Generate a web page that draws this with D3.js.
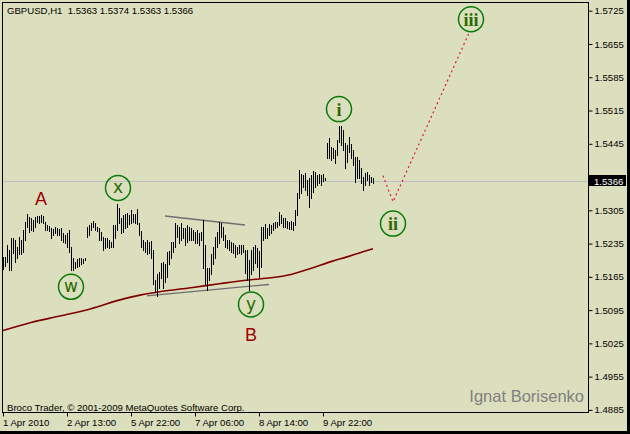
<!DOCTYPE html>
<html><head><meta charset="utf-8">
<script src="https://cdn.jsdelivr.net/npm/d3@7"></script>
<style>
html,body{margin:0;padding:0;background:#000;}
svg{display:block;}
</style></head>
<body>
<svg id="chart" width="630" height="434"></svg>
<script>
// ---- data ----
const symbolTitle = "GBPUSD,H1";
const lastOHLC = [1.5363, 1.5374, 1.5363, 1.5366];
const barHigh = [
1.5207,1.5207,1.5233,1.5222,1.5247,1.5247,1.5243,1.5228,1.5249,1.5243,
1.5264,1.5281,1.5298,1.5291,1.5289,1.5285,1.5291,1.5293,1.5293,1.5296,
1.5293,1.5281,1.5274,1.5272,1.5268,1.5266,1.5270,1.5268,1.5266,1.5268,
1.5258,1.5254,1.5258,1.5264,1.5228,1.5205,1.5197,1.5203,1.5205,1.5205,
1.5203,1.5205,1.5270,1.5274,1.5279,1.5283,1.5279,1.5270,1.5268,1.5260,
1.5249,1.5247,1.5247,1.5243,1.5239,1.5274,1.5274,1.5319,1.5310,1.5289,
1.5296,1.5298,1.5300,1.5296,1.5306,1.5298,1.5298,1.5308,1.5279,1.5262,
1.5243,1.5239,1.5243,1.5239,1.5241,1.5222,1.5159,1.5172,1.5176,1.5195,
1.5197,1.5191,1.5218,1.5220,1.5239,1.5239,1.5279,1.5274,1.5270,1.5279,
1.5268,1.5268,1.5274,1.5270,1.5268,1.5264,1.5260,1.5264,1.5258,1.5260,
1.5285,1.5233,1.5184,1.5184,1.5212,1.5228,1.5249,1.5260,1.5281,1.5279,
1.5270,1.5254,1.5243,1.5243,1.5239,1.5237,1.5233,1.5228,1.5233,1.5233,
1.5233,1.5222,1.5222,1.5201,1.5222,1.5228,1.5233,1.5226,1.5220,1.5270,
1.5270,1.5277,1.5268,1.5277,1.5274,1.5279,1.5281,1.5281,1.5302,1.5296,
1.5289,1.5289,1.5283,1.5281,1.5283,1.5281,1.5306,1.5342,1.5390,1.5382,
1.5380,1.5384,1.5369,1.5373,1.5380,1.5388,1.5386,1.5380,1.5382,1.5380,
1.5382,1.5373,1.5447,1.5457,1.5438,1.5436,1.5432,1.5453,1.5482,1.5482,
1.5474,1.5447,1.5443,1.5459,1.5445,1.5432,1.5418,1.5418,1.5411,1.5394,
1.5375,1.5384,1.5386,1.5380,1.5375,1.5374];
const barLow = [
1.5182,1.5188,1.5197,1.5180,1.5180,1.5216,1.5197,1.5205,1.5212,1.5212,
1.5218,1.5243,1.5270,1.5260,1.5264,1.5262,1.5270,1.5281,1.5279,1.5281,
1.5279,1.5264,1.5264,1.5262,1.5247,1.5254,1.5258,1.5254,1.5254,1.5243,
1.5239,1.5237,1.5228,1.5218,1.5180,1.5180,1.5184,1.5186,1.5188,1.5193,
1.5195,1.5201,1.5249,1.5254,1.5264,1.5270,1.5264,1.5262,1.5243,1.5243,
1.5222,1.5226,1.5228,1.5226,1.5228,1.5228,1.5247,1.5264,1.5279,1.5258,
1.5260,1.5268,1.5270,1.5277,1.5279,1.5281,1.5279,1.5277,1.5254,1.5228,
1.5222,1.5218,1.5212,1.5216,1.5205,1.5149,1.5134,1.5125,1.5142,1.5163,
1.5142,1.5155,1.5165,1.5191,1.5205,1.5218,1.5228,1.5249,1.5237,1.5243,
1.5247,1.5233,1.5239,1.5243,1.5243,1.5243,1.5237,1.5237,1.5233,1.5243,
1.5184,1.5149,1.5138,1.5159,1.5170,1.5191,1.5205,1.5228,1.5237,1.5249,
1.5243,1.5228,1.5226,1.5222,1.5218,1.5216,1.5207,1.5212,1.5216,1.5214,
1.5218,1.5174,1.5159,1.5138,1.5170,1.5180,1.5195,1.5186,1.5165,1.5186,
1.5243,1.5247,1.5247,1.5254,1.5258,1.5264,1.5268,1.5270,1.5274,1.5279,
1.5270,1.5270,1.5268,1.5266,1.5266,1.5264,1.5274,1.5296,1.5331,1.5342,
1.5354,1.5348,1.5338,1.5312,1.5331,1.5344,1.5354,1.5359,1.5363,1.5359,
1.5367,1.5369,1.5415,1.5415,1.5411,1.5415,1.5405,1.5422,1.5449,1.5443,
1.5432,1.5394,1.5407,1.5428,1.5415,1.5401,1.5365,1.5373,1.5373,1.5363,
1.5348,1.5359,1.5369,1.5359,1.5365,1.5363];

// moving average line (bar index, price)
const maIdx   = [0, 14, 29, 44, 59, 69, 79, 94, 109, 124, 134, 144, 155, 164, 172, 180, 185];
const maPrice = [1.5052,1.5069,1.5083,1.5098,1.5117,1.5127,1.5134,1.5142,1.5151,1.5159,1.5163,1.5170,1.5184,1.5197,1.5207,1.5218,1.5224];

// trend lines: [idx1, price1, idx2, price2]
const trendUpper = [81, 1.5293, 121, 1.5274];
const trendLower = [72, 1.5125, 133, 1.5149];

// projected path (idx, price)
const projIdx   = [190, 195, 233];
const projPrice = [1.5378, 1.5323, 1.5678];

// wave labels
const circleLabels = [
  {t:"w",   idx:34,   p:1.5144, serif:false},
  {t:"x",   idx:57.5, p:1.5352, serif:false},
  {t:"y",   idx:124,  p:1.5107, serif:false},
  {t:"i",   idx:168,  p:1.5518, serif:true},
  {t:"ii",  idx:195,  p:1.5277, serif:true},
  {t:"iii", idx:234,  p:1.5707, serif:true}
];
const letterLabels = [
  {t:"A", idx:19,  p:1.5329},
  {t:"B", idx:124, p:1.5043}
];

const priceTicks = [1.5725,1.5655,1.5585,1.5515,1.5445,1.5375,1.5305,1.5235,1.5165,1.5095,1.5025,1.4955,1.4885];
const timeIdx    = [0, 32, 64, 96, 128, 160];
const timeLabels = ["1 Apr 2010","2 Apr 13:00","5 Apr 22:00","7 Apr 06:00","8 Apr 14:00","9 Apr 22:00"];
const copyright = "Broco Trader, \u00A9 2001-2009 MetaQuotes Software Corp.";
const author = "Ignat Borisenko";

// ---- drawing ----
const BG = "#DCDFBD";
const svg = d3.select("#chart");
svg.append("rect").attr("width",630).attr("height",434).attr("fill","#000");
svg.append("rect").attr("width",627).attr("height",431).attr("fill",BG);

const L = 2, T = 2, R = 588, B = 412;
const x = d3.scaleLinear().domain([0, barHigh.length - 1]).range([3, 3 + 2*(barHigh.length - 1)]);
const y = d3.scaleLinear().domain([1.4885, 1.5725]).range([409.9, 10.7]);

const plot = svg.append("g");
const clip = svg.append("clipPath").attr("id","pc").append("rect")
  .attr("x",L).attr("y",T).attr("width",R-L).attr("height",B-T);
plot.attr("clip-path","url(#pc)");

// current price line
plot.append("line")
  .attr("x1",L).attr("x2",R)
  .attr("y1",Math.round(y(lastOHLC[3]))+0.5).attr("y2",Math.round(y(lastOHLC[3]))+0.5)
  .attr("stroke","#BEBEBE").attr("stroke-width",1);

// MA
const maData = maIdx.map((d,i)=>[d, maPrice[i]]);
plot.append("path")
  .datum(maData)
  .attr("d", d3.line().x(d=>x(d[0])).y(d=>y(d[1])).curve(d3.curveMonotoneX))
  .attr("fill","none").attr("stroke","#800000").attr("stroke-width",1.6);

// trend lines
[trendUpper, trendLower].forEach(t=>{
  plot.append("line")
    .attr("x1",x(t[0])).attr("y1",y(t[1])).attr("x2",x(t[2])).attr("y2",y(t[3]))
    .attr("stroke","#6E6E6E").attr("stroke-width",1.4);
});

// bars
plot.append("g").selectAll("line")
  .data(barHigh.map((h,i)=>({i, h, l: barLow[i]})))
  .join("line")
  .attr("x1", d=>Math.round(x(d.i))+0.5).attr("x2", d=>Math.round(x(d.i))+0.5)
  .attr("y1", d=>Math.round(y(d.h))).attr("y2", d=>Math.round(y(d.l))+1)
  .attr("stroke","#000").attr("stroke-width",1)
  .attr("shape-rendering","crispEdges");

// projection dotted path
plot.append("path")
  .datum(projIdx.map((d,i)=>[d, projPrice[i]]))
  .attr("d", d3.line().x(d=>x(d[0])).y(d=>y(d[1])))
  .attr("fill","none").attr("stroke","#E8103A").attr("stroke-width",1.2)
  .attr("stroke-dasharray","2,3");

// circle labels
const cl = plot.append("g").selectAll("g").data(circleLabels).join("g")
  .attr("transform", d=>`translate(${x(d.idx)},${y(d.p)})`);
cl.append("circle").attr("r",12.5).attr("fill","none")
  .attr("stroke","#0A7A0A").attr("stroke-width",1.5);
cl.append("text").text(d=>d.t)
  .attr("text-anchor","middle").attr("dy", d=> d.serif ? "0.36em" : "0.30em")
  .attr("font-family", d=> d.serif ? "'Liberation Serif', serif" : "'DejaVu Sans', sans-serif")
  .attr("font-size", d=> d.serif ? 18 : 17)
  .attr("font-weight", d=> d.serif ? "bold" : "normal")
  .attr("fill","#2A6A00");

// letter labels
plot.append("g").selectAll("text").data(letterLabels).join("text")
  .attr("x", d=>x(d.idx)).attr("y", d=>y(d.p)).attr("dy","0.36em")
  .attr("text-anchor","middle")
  .attr("font-family","'Liberation Sans', sans-serif").attr("font-size",18)
  .attr("fill","#A00000").text(d=>d.t);

// texts
plot.append("text").attr("x",7).attr("y",14)
  .attr("font-family","'Liberation Sans', sans-serif").attr("font-size",9.6).attr("fill","#000")
  .attr("xml:space","preserve")
  .text(symbolTitle + "  " + lastOHLC.map(d3.format(".4f")).join(" "));
plot.append("text").attr("x",7).attr("y",410.5)
  .attr("font-family","'Liberation Sans', sans-serif").attr("font-size",9.6).attr("fill","#000")
  .text(copyright);
plot.append("text").attr("x",584).attr("y",402).attr("text-anchor","end")
  .attr("font-family","'Liberation Sans', sans-serif").attr("font-size",16.5).attr("fill","#808080")
  .text(author);

// frame
svg.append("rect").attr("x",L+0.5).attr("y",T+0.5).attr("width",R-L).attr("height",B-T)
  .attr("fill","none").attr("stroke","#000").attr("stroke-width",1);

// price axis
const ya = svg.append("g").attr("transform",`translate(${R+0.5},0)`)
  .call(d3.axisRight(y).tickValues(priceTicks).tickSize(4).tickPadding(2).tickFormat(d3.format(".4f")));
ya.select(".domain").remove();
ya.selectAll("line").attr("stroke","#000");
ya.selectAll("text").attr("font-family","'Liberation Sans', sans-serif").attr("font-size",9.6)
  .attr("fill","#000").attr("x",6);

// current price box
const cy = y(lastOHLC[3]);
svg.append("rect").attr("x",589).attr("y",Math.round(cy)-6).attr("width",37).attr("height",11).attr("fill","#000");
svg.append("text").attr("x",594).attr("y",Math.round(cy)+3.5)
  .attr("font-family","'Liberation Sans', sans-serif").attr("font-size",9.6).attr("fill","#fff")
  .text(d3.format(".4f")(lastOHLC[3]));

// time axis
const xa = svg.append("g").attr("transform",`translate(0,${B+0.5})`)
  .call(d3.axisBottom(x).tickValues(timeIdx).tickSize(4).tickPadding(2).tickFormat((d,i)=>timeLabels[i]));
xa.select(".domain").remove();
xa.selectAll(".tick").attr("transform", d=>`translate(${Math.round(x(d))+0.5},0)`);
xa.selectAll("line").attr("stroke","#000");
xa.selectAll("text").attr("text-anchor","start").attr("x",-0.5).attr("y",13.5).attr("dy",0)
  .attr("font-family","'Liberation Sans', sans-serif").attr("font-size",9.6).attr("fill","#000");
</script>
</body></html>
